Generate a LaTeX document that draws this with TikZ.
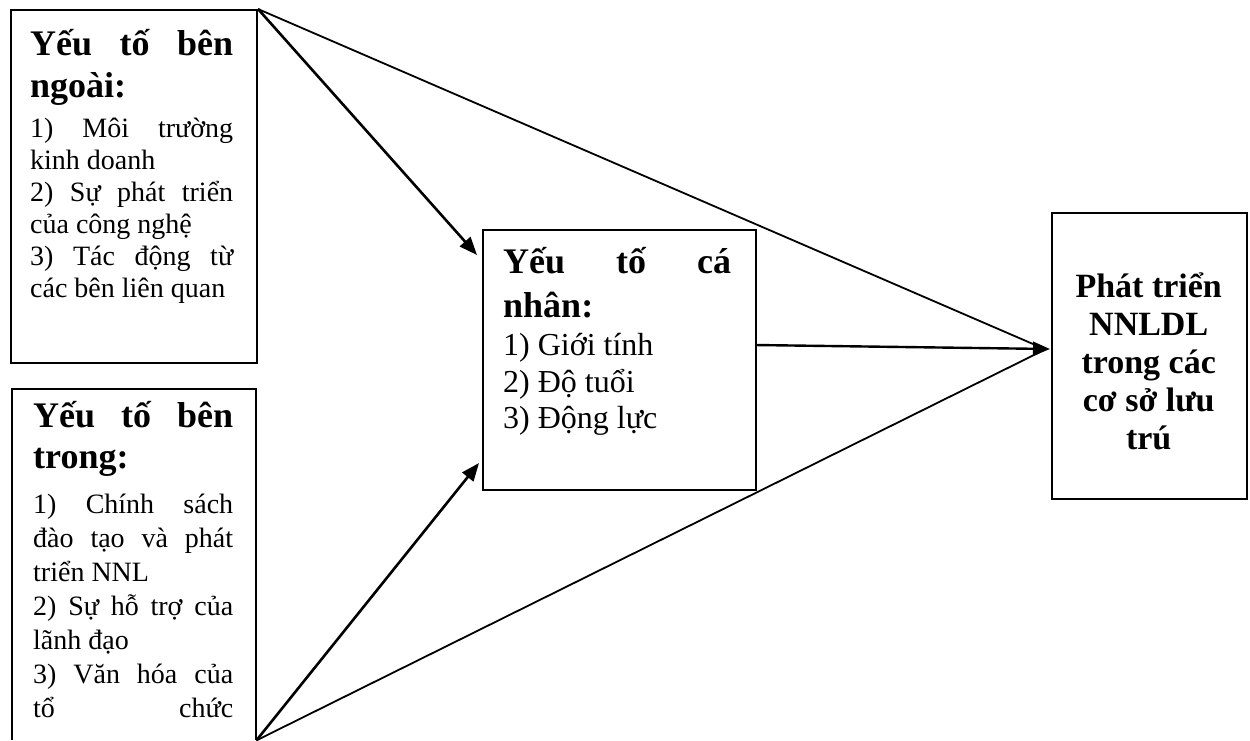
\documentclass[tikz,border=0pt]{standalone}
\usepackage{fontspec}
\setmainfont{Liberation Serif}
\usetikzlibrary{arrows.meta}
\newcommand\myline[1]{\setbox0=\hbox to\hsize{#1}\ht0=0pt \dp0=0pt \box0}
\newcommand\hdfont{\bfseries\fontsize{36}{42}\selectfont}
\newcommand\bdfont{\fontsize{28}{33}\selectfont}
\newcommand\mbfont{\fontsize{32}{37}\selectfont}
\newcommand\rtfont{\bfseries\fontsize{34}{38}\selectfont}
\tikzset{
  boxstyle/.style={draw=black, line width=2pt, rectangle, inner sep=0pt, anchor=north west},
  txtstyle/.style={inner sep=0pt, anchor=base west},
  thickarr/.style={line width=2.6pt, -{Triangle[length=18pt,width=14pt]}},
  midarr/.style={line width=2.4pt, -{Triangle[length=17pt,width=14pt]}},
  thinline/.style={line width=1.8pt}
}
\begin{document}
\begin{tikzpicture}[x=1pt,y=-1pt]
\useasboundingbox (0,0) rectangle (1250,740);
\fill[white] (0,0) rectangle (1250,740);

% boxes
\node[boxstyle, minimum width=246pt, minimum height=353pt] (b1) at (10,9) {};
\node[inner sep=0pt, anchor=north west, minimum width=244pt, minimum height=351pt] (b2) at (12,389) {};
\draw[line width=2pt] (b2.south west) -- (b2.north west) -- (b2.north east) -- (b2.south east);
\node[boxstyle, minimum width=273pt, minimum height=260pt] (mid) at (482,229) {};
\node[boxstyle, minimum width=195pt, minimum height=286pt] (rt) at (1051,212) {};

% texts
\node[txtstyle] (t1) at (30,55) {\vtop{\hsize=203pt\offinterlineskip
\myline{\hdfont Yếu\hfill tố\hfill bên}\kern42pt
\myline{\hdfont ngoài:\hfill}\kern40pt
\myline{\bdfont 1)\hfill Môi\hfill trường}\kern32pt
\myline{\bdfont kinh doanh\hfill}\kern32pt
\myline{\bdfont 2)\hfill Sự\hfill phát\hfill triển}\kern32pt
\myline{\bdfont của công nghệ\hfill}\kern32pt
\myline{\bdfont 3)\hfill Tác\hfill động\hfill từ}\kern32pt
\myline{\bdfont các bên liên quan\hfill}}};

\node[txtstyle] (t2) at (33,427) {\vtop{\hsize=200pt\offinterlineskip
\myline{\hdfont Yếu\hfill tố\hfill bên}\kern41pt
\myline{\hdfont trong:\hfill}\kern45pt
\myline{\bdfont 1)\hfill Chính\hfill sách}\kern34pt
\myline{\bdfont đào\hfill tạo\hfill và\hfill phát}\kern34pt
\myline{\bdfont triển NNL\hfill}\kern34pt
\myline{\bdfont 2)\hfill Sự\hfill hỗ\hfill trợ\hfill của}\kern34pt
\myline{\bdfont lãnh đạo\hfill}\kern34pt
\myline{\bdfont 3)\hfill Văn\hfill hóa\hfill của}\kern34pt
\myline{\bdfont tổ\hfill chức}}};

\node[txtstyle] (t3) at (503,273) {\vtop{\hsize=228pt\offinterlineskip
\myline{\hdfont Yếu\hfill tố\hfill cá}\kern44pt
\myline{\hdfont nhân:\hfill}\kern38pt
\myline{\mbfont 1) Giới tính\hfill}\kern37pt
\myline{\mbfont 2) Độ tuổi\hfill}\kern36pt
\myline{\mbfont 3) Động lực\hfill}}};

\node[txtstyle] (t4) at (1051,297) {\vtop{\hsize=195pt\offinterlineskip
\myline{\hfil\rtfont Phát triển\hfil}\kern38pt
\myline{\hfil\rtfont NNLDL\hfil}\kern38pt
\myline{\hfil\rtfont trong các\hfil}\kern38pt
\myline{\hfil\rtfont cơ sở lưu\hfil}\kern38pt
\myline{\hfil\rtfont trú\hfil}}};

% connector end points
\coordinate (tA) at (477,255);
\coordinate (tB) at (479,463);
\coordinate (mE) at (755,345);
\coordinate (tC) at (1050,349);
\coordinate (eTop) at (1033,344);
\coordinate (eBot) at (1040,352);

% connectors
\draw[thinline] (b1.north east) -- (eTop);
\draw[thinline] (b2.south east) -- (eBot);
\draw[thickarr] (b1.north east) -- (tA);
\draw[thickarr] (b2.south east) -- (tB);
\draw[midarr] (mE) -- (tC);
\end{tikzpicture}
\end{document}
